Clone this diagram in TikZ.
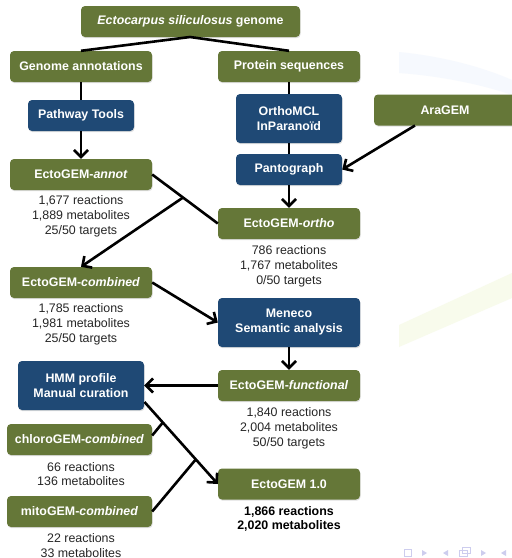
\documentclass[tikz,border=0pt]{standalone}
\usepackage{fontspec}
\setmainfont{Liberation Sans}
\usetikzlibrary{arrows.meta,shadows,calc}
\definecolor{gemgreen}{RGB}{101,119,56}
\definecolor{gemblue}{RGB}{31,73,117}
\definecolor{wmblue}{RGB}{246,249,254}
\definecolor{wmgreen}{RGB}{248,251,236}
\definecolor{navcol}{RGB}{205,205,238}
\begin{document}
\begin{tikzpicture}[x=1pt,y=-1pt,
  gembox/.style={rounded corners=4pt, text=white, align=center, inner sep=0pt,
    font=\fontsize{12.4}{15}\selectfont\bfseries,
    drop shadow={shadow xshift=0.6pt, shadow yshift=-1.2pt, opacity=0.25}},
  gbox/.style={gembox, fill=gemgreen, minimum width=142pt, minimum height=31pt},
  bbox/.style={gembox, fill=gemblue},
  stat/.style={font=\fontsize{12.4}{14.8}\selectfont, align=center, text=black!85},
  con/.style={line width=2.6pt, black},
  arr/.style={con, -{Straight Barb[length=7pt,width=14pt]}}]
\useasboundingbox (0,0) rectangle (512,558);
\clip (0,0) rectangle (512,558);
\fill[white] (0,0) rectangle (512,558);
% faint watermark
\fill[wmblue] (399,52) .. controls (440,56) and (480,66) .. (512,80) -- (512,95) .. controls (480,84) and (440,76) .. (399,73) -- cycle;
\fill[wmgreen] (399,325) -- (512,273) -- (512,298) -- (399,347) -- cycle;
% navigation symbols
\draw[navcol, line width=0.8pt] (404,549) rectangle (411,556);
\fill[navcol] (422,550) -- (427,553) -- (422,556) -- cycle;
\fill[navcol] (448,550) -- (443,553) -- (448,556) -- cycle;
\draw[navcol, line width=0.8pt] (462,547) rectangle (470,553) (459,550) rectangle (467,556);
\fill[navcol] (481,550) -- (486,553) -- (481,556) -- cycle;
\fill[navcol] (506,550) -- (501,553) -- (506,556) -- cycle;

% boxes
\node[gbox, minimum width=219pt] (genome) at (190.5,21.5) {\textit{Ectocarpus siliculosus} genome};
\node[gbox] (annotations) at (81,66.5) {Genome annotations};
\node[gbox] (protein) at (289,66.5) {Protein sequences};
\node[bbox, minimum width=106pt, minimum height=31pt] (pathway) at (81,115.5) {Pathway Tools};
\node[bbox, minimum width=106pt, minimum height=49pt] (orthomcl) at (289,118.5) {OrthoMCL\\InParanoïd};
\node[gbox] (aragem) at (445,110) {AraGEM};
\node[bbox, minimum width=106pt, minimum height=31pt] (pantograph) at (289,169.5) {Pantograph};
\node[gbox] (annot) at (81,174.5) {EctoGEM-\textit{annot}};
\node[gbox] (ortho) at (289,223.5) {EctoGEM-\textit{ortho}};
\node[gbox] (combined) at (81,282.5) {EctoGEM-\textit{combined}};
\node[bbox, minimum width=142pt, minimum height=49pt] (meneco) at (289,322.5) {Meneco\\Semantic analysis};
\node[gbox] (functional) at (289,385.5) {EctoGEM-\textit{functional}};
\node[bbox, minimum width=126pt, minimum height=49pt] (hmm) at (81,385.5) {HMM profile\\Manual curation};
\node[gbox, minimum width=145pt] (chloro) at (79.5,439.5) {chloroGEM-\textit{combined}};
\node[gbox] (ecto10) at (289,484) {EctoGEM 1.0};
\node[gbox, minimum width=145pt] (mito) at (79.5,511.5) {mitoGEM-\textit{combined}};

% statistics
\node[stat] (sannot) at (81,216.5) {1,677 reactions\\1,889 metabolites\\25/50 targets};
\node[stat] (sortho) at (289,266) {786 reactions\\1,767 metabolites\\0/50 targets};
\node[stat] (scombined) at (81,324) {1,785 reactions\\1,981 metabolites\\25/50 targets};
\node[stat] (sfunctional) at (289,428) {1,840 reactions\\2,004 metabolites\\50/50 targets};
\node[stat] (schloro) at (81,474) {66 reactions\\136 metabolites};
\node[stat] (smito) at (81,545.5) {22 reactions\\33 metabolites};
\node[stat, font=\fontsize{12.4}{14.8}\selectfont\bfseries, text=black] (secto) at (289,519) {1,866 reactions\\2,020 metabolites};

% connectors
\coordinate (gS) at (190,37);
\draw[con] (gS) -- (annotations.north);
\draw[con] (gS) -- (protein.north);
\draw[con] (annotations.south) -- (pathway.north);
\draw[arr] (pathway.south) -- (annot.north);
\draw[con] (protein.south) -- (orthomcl.north);
\draw[con] (orthomcl.south) -- (pantograph.north);
\draw[arr] (pantograph.south) -- (ortho.north);
\coordinate (araS) at (415,125.5);
\draw[arr] (araS) -- (pantograph.east);
\draw[con] (annot.east) -- coordinate[pos=0.47] (jA) (ortho.west);
\draw[arr] (jA) -- (combined.north);
\draw[arr] (combined.east) -- (meneco.west);
\draw[arr] (meneco.south) -- (functional.north);
\draw[arr] (functional.west) -- (hmm.east);
\coordinate (hmmS) at (144.5,402);
\draw[arr] (hmmS) -- coordinate[pos=0.25] (jC) coordinate[pos=0.7] (jM) (ecto10.west);
\draw[con] ($(chloro.east)+(0,-4)$) -- (jC);
\draw[con] (mito.east) -- (jM);
\end{tikzpicture}
\end{document}
